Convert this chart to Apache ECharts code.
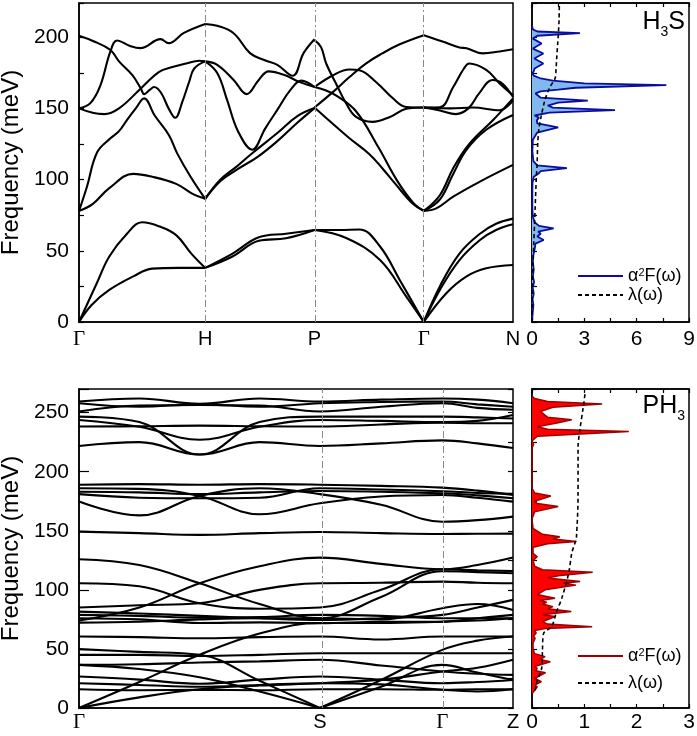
<!DOCTYPE html>
<html><head><meta charset="utf-8">
<script src="https://cdn.jsdelivr.net/npm/echarts@6/dist/echarts.min.js"></script>
<style>html,body{margin:0;padding:0;background:#fff}#c{width:697px;height:736px}</style>
</head><body><div id="c"></div>
<script>
// ===== DATA =====
// H3S high-symmetry path (k-distance, units 2pi/a)
const H3S_KPOINTS = [0, 1, 1.866, 2.732, 3.439];
const H3S_KLABELS = ['Γ', 'H', 'P', 'Γ', 'N'];
const H3S_YTICKS = [0, 50, 100, 150, 200];
// branches per segment: [fraction along segment, meV]
const H3S_GH = [
  [[0,0],[0.1,12],[0.24,22.5],[0.43,32],[0.58,37.5],[0.79,38],[1,38]],
  [[0,0],[0.14,27],[0.24,46],[0.38,62],[0.5,70],[0.64,67],[0.77,61],[0.89,48],[1,38]],
  [[0,78],[0.11,83],[0.24,94],[0.43,104],[0.58,102],[0.77,97],[0.9,90],[1,86.5]],
  [[0,78],[0.063,95],[0.143,119],[0.249,129],[0.317,134],[0.381,142],[0.45,150],[0.516,157],[0.6,145],[0.714,131],[0.778,118.4],[0.884,102],[1,86.5]],
  [[0,201],[0.12,197],[0.249,191],[0.317,183],[0.423,173.3],[0.49,164],[0.516,160],[0.56,163],[0.595,165],[0.65,161],[0.71,150],[0.762,143.4],[0.82,155],[0.873,168.7],[0.913,178],[1,183]],
  [[0,150],[0.09,153.7],[0.169,166],[0.249,190],[0.302,197.7],[0.4,194],[0.487,192.3],[0.646,198.6],[0.71,195.8],[0.831,203],[1,209.3]],
  [[0,150],[0.116,146.7],[0.2,146],[0.317,150],[0.49,164],[0.635,175.7],[0.74,179],[0.85,181.5],[0.952,183.5],[1,183]]
];
const H3S_HP = [
  [[0,38],[0.25,48],[0.49,59.5],[0.74,62],[1,64.6]],
  [[0,38],[0.25,46],[0.49,57],[0.74,58.8],[1,64.6]],
  [[0,86.5],[0.14,100],[0.29,109.3],[0.43,118.5],[0.66,132.7],[0.84,144.4],[1,150.2]],
  [[0,86.5],[0.14,99],[0.29,107],[0.48,116],[0.66,127],[0.84,139.7],[1,150.2]],
  [[0,183],[0.11,174.8],[0.2,156],[0.3,134],[0.43,121],[0.55,136],[0.66,149],[0.78,163],[0.88,169.5],[1,165]],
  [[0,183],[0.11,180.6],[0.26,170],[0.38,160],[0.49,170],[0.58,176],[0.72,173.6],[0.86,168.6],[1,165]],
  [[0,209.3],[0.11,208],[0.26,202.8],[0.41,188.8],[0.54,184],[0.66,180.6],[0.8,172.9],[0.9,188.8],[1,198.6]]
];
const H3S_PG = [
  [[0,64.6],[0.23,64.6],[0.41,65],[0.6,53],[0.78,29.5],[1,0]],
  [[0,64.6],[0.29,59],[0.6,43.5],[0.84,17.8],[1,0]],
  [[0,150.6],[0.17,139],[0.32,129],[0.5,118],[0.62,108],[0.74,97],[0.9,83],[1,78]],
  [[0,165],[0.107,162.5],[0.2,159],[0.38,148],[0.59,122],[0.75,100],[0.9,84],[1,78]],
  [[0,150.6],[0.17,161.6],[0.32,172],[0.47,181.5],[0.62,188.6],[0.78,195],[1,201.4]],
  [[0,165],[0.17,173.3],[0.32,177.3],[0.41,176.8],[0.56,168.7],[0.72,156.9],[0.84,151],[1,150.6]],
  [[0,197.9],[0.06,193],[0.107,181.5],[0.2,167],[0.29,153.4],[0.38,144],[0.53,140.5],[0.69,144],[0.84,149.7],[1,150.6]]
];
const H3S_GN = [
  [[0,0],[0.18,25],[0.4,48],[0.63,62],[0.81,69],[1,72.6]],
  [[0,0],[0.18,22.5],[0.4,43.5],[0.63,57.6],[0.81,64.6],[1,68.6]],
  [[0,0],[0.25,20],[0.48,32],[0.7,37.7],[1,40]],
  [[0,78],[0.14,79.8],[0.33,88],[0.63,98.6],[1,110.3]],
  [[0,78],[0.18,86],[0.33,104],[0.48,121],[0.7,135],[1,145.4]],
  [[0,78],[0.18,89],[0.33,108],[0.51,125],[0.78,142],[1,157]],
  [[0,150.6],[0.3,150],[0.55,150.6],[0.85,148.7],[1,155.6]],
  [[0,150.6],[0.18,148.5],[0.36,146],[0.5,150],[0.62,160.5],[0.77,169.9],[0.88,167.5],[1,158]],
  [[0,150.6],[0.18,150.8],[0.33,165],[0.45,178],[0.51,181.5],[0.7,177],[0.85,167.5],[1,159.2]],
  [[0,201.4],[0.21,197],[0.4,192.8],[0.48,192.2],[0.66,188.6],[0.85,190],[1,191.5]]
];
// H3S Eliashberg function [a2F, meV] and lambda [lambda, meV]
const H3S_A2F = [[0,0],[0.03,5],[0.08,12],[0.03,16],[0.1,20],[0.04,24],[0.12,28],[0.05,32],[0.1,37],[0.05,42],[0.08,47],[0.15,51],[0.2,55],[0.67,57.6],[0.3,60],[0.5,62],[0.35,63.5],[1.24,65.8],[0.4,67.5],[0.15,70],[0.05,74],[0.02,80],[0.02,90],[0.03,98],[0.1,102],[0.4,104.5],[0.5,106],[2.0,108],[0.3,110],[0.08,113],[0.02,120],[0.05,128],[0.3,133],[1.5,136.6],[0.3,139.5],[0.28,141.8],[0.4,143.5],[0.15,145],[1.0,147],[4.76,148.8],[1.2,150.5],[0.9,152],[1.5,154],[3.2,155.5],[0.5,157.5],[0.2,160.5],[0.5,162],[1.5,163.2],[2.5,164.5],[7.7,166.3],[3.0,167.5],[1.2,169.5],[0.5,171],[0.1,173],[0.02,174.5],[0.1,176],[0.15,178],[0.65,181.5],[0.13,185],[0.65,188.5],[0.05,192],[0.55,195.6],[0.05,199],[0.3,201],[2.75,202.8],[0.3,204],[0.05,205.5],[0,208]];
const H3S_LAMBDA = [[0,0],[0.02,20],[0.05,40],[0.1,55],[0.15,70],[0.18,80],[0.25,102],[0.29,110],[0.33,126],[0.4,136],[0.52,144],[0.74,155.8],[1.03,165],[1.32,171],[1.38,178],[1.41,184],[1.47,195],[1.51,202],[1.55,212],[1.57,224]];
const H3S_A2F_XTICKS = [0, 3, 6, 9];

// PH3 path (normalised k-distance) and bands
const PH3_KPOINTS = [0, 0.555, 0.837, 1];
const PH3_KLABELS = ['Γ', 'S', 'Γ', 'Z'];
const PH3_YTICKS = [0, 50, 100, 150, 200, 250];
const PH3_KX = [0, 0.139, 0.278, 0.416, 0.555, 0.696, 0.837, 0.918, 1];
const PH3_S_INDEX = 4;
const PH3_BANDS = [
  [259.4, 262, 257.5, 262, 259.4, 261, 262, 261, 258],
  [258, 255, 257, 255, 258, 259, 259.4, 257, 255],
  [251, 256, 256.5, 256, 251, 255, 258, 254, 252.4],
  [246.6, 242, 214.5, 242, 246.6, 246.6, 246.6, 246, 245],
  [243.8, 238, 227, 238, 243.8, 243, 242, 243, 248],
  [238.2, 238.5, 239, 238.5, 238.2, 240, 241.5, 241, 241],
  [221.8, 225, 214.5, 225, 221.8, 224, 226.5, 224, 220],
  [189, 189.5, 189, 189.5, 189, 188, 186.5, 184, 180.3],
  [186, 185.5, 179.5, 164, 173.3, 179, 180.3, 178, 174.7],
  [174.7, 163, 179.5, 186, 181, 172, 157.7, 159, 162],
  [183, 182.5, 181, 182.5, 183.7, 183, 181.7, 180, 177.5],
  [181, 178, 177.5, 178, 186, 185, 183.5, 182, 181.4],
  [149.3, 148, 146.5, 148, 149, 148, 147.3, 147.5, 147.6],
  [125.9, 121, 105.6, 88, 76, 94, 115.7, 115, 114],
  [74, 85, 105.6, 120, 127.3, 122, 117.4, 121, 127.3],
  [105.6, 103, 88.7, 84, 85, 100, 117.4, 116.5, 116],
  [85, 87, 88.7, 100, 105.6, 106, 107, 106, 105.6],
  [81.6, 80, 78, 76, 74.6, 76, 78.8, 85, 91.5],
  [78.8, 78, 76.5, 77, 78.8, 78, 76, 76, 76],
  [76, 75, 72, 72.5, 71.8, 73, 73.1, 76, 78.8],
  [72.3, 73, 75, 76, 76, 75, 84.5, 88, 83],
  [60.5, 60, 59, 60, 60.5, 58, 60.5, 60.5, 60.5],
  [49.8, 47.5, 45, 23, 0, 23.7, 49.2, 57, 60.5],
  [0, 22, 45, 63, 72, 72, 73, 74, 76],
  [0, 9, 15.9, 19, 21, 24, 30.9, 34, 40.8],
  [45, 45, 44, 45, 46.4, 46.4, 46.4, 46.4, 46.4],
  [36.5, 37, 38.5, 39.5, 40.8, 36, 30.9, 29, 28],
  [26.6, 24, 20.5, 24, 26.6, 24, 21, 22, 23.7],
  [21, 19.5, 18, 19.5, 21, 20, 15.4, 14, 15.9],
  [15.9, 15, 15.4, 15, 15.9, 15.9, 15.4, 15.9, 15.9],
  [36.5, 33, 26, 14, 0, 18, 36.5, 30, 23.7]
];
const PH3_A2F = [[0,12],[0.05,15],[0.1,18],[0.06,19.5],[0.18,22.3],[0.05,25],[0.26,29.9],[0.07,31.5],[0.1,33.6],[0.05,35],[0.35,39.2],[0.15,41],[0.25,43.5],[0.05,46],[0.02,50],[0.02,55],[0.06,59],[0.03,61],[0.08,63.5],[0.05,65.5],[0.25,67.3],[1.15,68.8],[0.3,71],[0.2,73],[0.44,77.4],[0.2,79],[0.75,81.6],[0.3,84],[0.4,85.8],[0.2,88],[0.28,89.5],[0.15,91],[0.44,92.9],[0.1,96],[0.25,100],[0.84,104],[0.6,105.5],[0.92,107],[0.3,110],[0.5,112],[1.16,114.9],[0.2,117],[0.05,120],[0.02,125],[0.1,128],[0.02,131],[0.02,136],[0.3,139],[0.85,140.9],[0.4,143],[0.53,145],[0.2,147],[0.02,152],[0,160],[0.05,166],[0.5,170.5],[0.1,173],[0.05,175],[0.36,179.5],[0.05,182],[0,186],[0,220],[0.03,223],[0,226],[0.1,230],[1.85,234],[0.3,236],[0.1,238],[0.5,241.5],[0.76,243.9],[0.3,246],[0.16,251],[0.4,254.5],[1.34,257.4],[0.3,259.5],[0.05,262],[0,264]];
const PH3_LAMBDA = [[0.06,15],[0.1,23],[0.19,35],[0.2,49],[0.22,63],[0.375,69],[0.47,81.6],[0.57,93],[0.7,114],[0.76,131],[0.83,141],[0.85,145],[0.88,179],[0.88,221],[0.91,234],[0.98,255],[1.02,268]];
const PH3_A2F_XTICKS = [0, 1, 2, 3];

// ===== CHART =====
const FONT = "'Liberation Sans', Arial, Helvetica, sans-serif";
const SERIF = "'Liberation Serif', 'DejaVu Serif', 'Times New Roman', serif";
const chart = echarts.init(document.getElementById('c'), null, {renderer: 'canvas'});

function bandLine(data, idx) {
  return {
    type: 'line', xAxisIndex: idx, yAxisIndex: idx, data: data,
    symbol: 'none', showSymbol: false, smooth: 0.4,
    lineStyle: {color: '#000', width: 2.1}, silent: true, z: 3
  };
}
function vlines(kp) {
  return {
    symbol: ['none', 'none'], silent: true, label: {show: false},
    lineStyle: {color: '#8a8a8a', width: 1, type: [7, 3, 2, 3]},
    data: kp.slice(1, -1).map(x => ({xAxis: x}))
  };
}
function fillSeries(pts, idx, color) {
  return {
    type: 'custom', xAxisIndex: idx, yAxisIndex: idx, data: pts, silent: true, z: 2,
    renderItem: function (params, api) {
      if (params.dataIndex !== 0) return null;
      const poly = [api.coord([0, pts[0][1]])];
      pts.forEach(p => poly.push(api.coord(p)));
      poly.push(api.coord([0, pts[pts.length - 1][1]]));
      return {type: 'polygon', shape: {points: poly}, style: {fill: color, stroke: null}};
    }
  };
}

const series = [];
[H3S_GH, H3S_HP, H3S_PG, H3S_GN].forEach((seg, s) => {
  const a = H3S_KPOINTS[s], b = H3S_KPOINTS[s + 1];
  seg.forEach(br => series.push(bandLine(br.map(([t, e]) => [a + t * (b - a), e]), 0)));
});
series[0].markLine = vlines(H3S_KPOINTS);
const firstPH3 = series.length;
PH3_BANDS.forEach(b => {
  const pts = b.map((e, i) => [PH3_KX[i], e]);
  if (b[PH3_S_INDEX] === 0) {
    // acoustic-like branch touching zero at S: sharp V there
    series.push(bandLine(pts.slice(0, PH3_S_INDEX + 1), 2));
    series.push(bandLine(pts.slice(PH3_S_INDEX), 2));
  } else {
    series.push(bandLine(pts, 2));
  }
});
series[firstPH3].markLine = vlines(PH3_KPOINTS);

const HIDE = {opacity: 0};
series.push(fillSeries(H3S_A2F, 1, '#80b9ee'));
series.push({type: 'line', name: 'a2f_h3s', xAxisIndex: 1, yAxisIndex: 1, data: H3S_A2F, symbol: 'none', smooth: false,
  lineStyle: {color: '#0c0ca0', width: 1.8}, itemStyle: HIDE, silent: true, z: 4});
series.push({type: 'line', name: 'lam_h3s', xAxisIndex: 1, yAxisIndex: 1, data: H3S_LAMBDA, symbol: 'none', smooth: 0.3,
  lineStyle: {color: '#000', width: 1.6, type: [4, 3]}, itemStyle: HIDE, silent: true, z: 5});
series.push(fillSeries(PH3_A2F, 3, '#ff0000'));
series.push({type: 'line', name: 'a2f_ph3', xAxisIndex: 3, yAxisIndex: 3, data: PH3_A2F, symbol: 'none', smooth: false,
  lineStyle: {color: '#9c0000', width: 1.5}, itemStyle: HIDE, silent: true, z: 4});
series.push({type: 'line', name: 'lam_ph3', xAxisIndex: 3, yAxisIndex: 3, data: PH3_LAMBDA, symbol: 'none', smooth: 0.3,
  lineStyle: {color: '#000', width: 1.6, type: [4, 3]}, itemStyle: HIDE, silent: true, z: 5});

const AX = {color: '#000', width: 1.5};
const TICKFONT = 21;
function kAxis(grid, kp, kl, max, margin) {
  return {
    type: 'value', gridIndex: grid, min: 0, max: max,
    axisLine: {show: true, lineStyle: AX}, axisTick: {show: false}, splitLine: {show: false},
    axisLabel: {
      customValues: kp, margin: margin, color: '#000', fontFamily: FONT, fontSize: 20,
      formatter: function (v) {
        let i = 0, d = 1e9;
        kp.forEach((k, j) => { if (Math.abs(k - v) < d) { d = Math.abs(k - v); i = j; } });
        return kl[i] === 'Γ' ? '{g|Γ}' : kl[i];
      },
      rich: {g: {fontFamily: SERIF, fontSize: 21, color: '#000'}}
    }
  };
}
function a2fXAxis(grid, max, interval, ticks, pos, labels, margin) {
  return {
    type: 'value', gridIndex: grid, min: 0, max: max, interval: interval, position: pos,
    axisLine: {show: true, lineStyle: AX}, splitLine: {show: false},
    axisTick: {show: true, inside: true, length: 4, lineStyle: {color: '#000', width: 1.2}},
    axisLabel: {show: labels, margin: margin, color: '#000', fontFamily: FONT, fontSize: TICKFONT,
      formatter: v => (ticks.indexOf(v) >= 0 ? String(v) : '')}
  };
}
function freqAxis(grid, max, ticks, labels, tickLen, interval, nameGap) {
  const ax = {
    type: 'value', gridIndex: grid, min: 0, max: max, interval: interval,
    axisLine: {show: true, lineStyle: AX}, splitLine: {show: false},
    axisTick: {show: true, inside: true, length: tickLen, lineStyle: {color: '#000', width: 1.2}},
    axisLabel: {show: labels, margin: 10, color: '#000', fontFamily: FONT, fontSize: TICKFONT,
      formatter: v => (ticks.indexOf(v) >= 0 ? String(v) : '')}
  };
  if (nameGap) {
    ax.name = 'Frequency (meV)'; ax.nameLocation = 'middle'; ax.nameGap = nameGap;
    ax.nameTextStyle = {color: '#000', fontFamily: FONT, fontSize: 24};
  }
  return ax;
}

const legendRich = {
  t: {fontFamily: FONT, fontSize: 18, color: '#000'},
  sup: {fontFamily: FONT, fontSize: 11, color: '#000', verticalAlign: 'top'}
};
const LEGEND_TEXT = {
  a2f_h3s: '{t|α}{sup|2}{t|F(ω)}', lam_h3s: '{t|λ(ω)}',
  a2f_ph3: '{t|α}{sup|2}{t|F(ω)}', lam_ph3: '{t|λ(ω)}'
};
function legend(names, top, gap) {
  return {
    data: names, orient: 'vertical', left: 577, top: top, padding: 0, itemWidth: 45, itemHeight: 14, itemGap: gap,
    selectedMode: false, formatter: n => LEGEND_TEXT[n], itemStyle: {opacity: 0},
    textStyle: {fontFamily: FONT, fontSize: 18, color: '#000', rich: legendRich}
  };
}
const titleRich = {
  n: {fontFamily: FONT, fontSize: 25, fontWeight: 'normal', color: '#000', verticalAlign: 'bottom', padding: [0, 0, 4, 0]},
  s: {fontFamily: FONT, fontSize: 14, fontWeight: 'normal', color: '#000', verticalAlign: 'bottom'}
};

const option = {
  animation: false,
  backgroundColor: '#fff',
  title: [
    {text: '{n|H}{s|3}{n|S}', right: 12, top: 10, padding: 0, textStyle: {fontWeight: 'normal', rich: titleRich}},
    {text: '{n|PH}{s|3}', right: 12, top: 394, padding: 0, textStyle: {fontWeight: 'normal', rich: titleRich}}
  ],
  legend: [legend(['a2f_h3s', 'lam_h3s'], 267, 1), legend(['a2f_ph3', 'lam_ph3'], 647, 9)],
  grid: [
    {left: 79, top: 3, width: 434, height: 319, show: true, borderColor: '#000', borderWidth: 1.5, containLabel: false, outerBoundsMode: 'none'},
    {left: 532, top: 3, width: 157, height: 319, show: true, borderColor: '#000', borderWidth: 1.5, containLabel: false, outerBoundsMode: 'none'},
    {left: 79, top: 389, width: 434, height: 319, show: true, borderColor: '#000', borderWidth: 1.5, containLabel: false, outerBoundsMode: 'none'},
    {left: 532, top: 389, width: 157, height: 319, show: true, borderColor: '#000', borderWidth: 1.5, containLabel: false, outerBoundsMode: 'none'}
  ],
  xAxis: [
    kAxis(0, H3S_KPOINTS, H3S_KLABELS, 3.439, 7),
    a2fXAxis(1, 9, 1.5, H3S_A2F_XTICKS, 'bottom', true, 7),
    kAxis(2, PH3_KPOINTS, PH3_KLABELS, 1, 4),
    a2fXAxis(3, 3, 0.5, PH3_A2F_XTICKS, 'bottom', true, 4),
    a2fXAxis(1, 9, 1.5, H3S_A2F_XTICKS, 'top', false, 7),
    a2fXAxis(3, 3, 0.5, PH3_A2F_XTICKS, 'top', false, 4)
  ],
  yAxis: [
    freqAxis(0, 224, H3S_YTICKS, true, 5, 25, 50),
    freqAxis(1, 224, H3S_YTICKS, false, 5, 25, 0),
    freqAxis(2, 270, PH3_YTICKS, true, 10, 50, 50),
    freqAxis(3, 270, PH3_YTICKS, false, 5, 25, 0),
    Object.assign(freqAxis(2, 270, [], false, 5, 25, 0), {axisLine: {show: false}})
  ],
  series: series
};
chart.setOption(option);
</script>
</body></html>
